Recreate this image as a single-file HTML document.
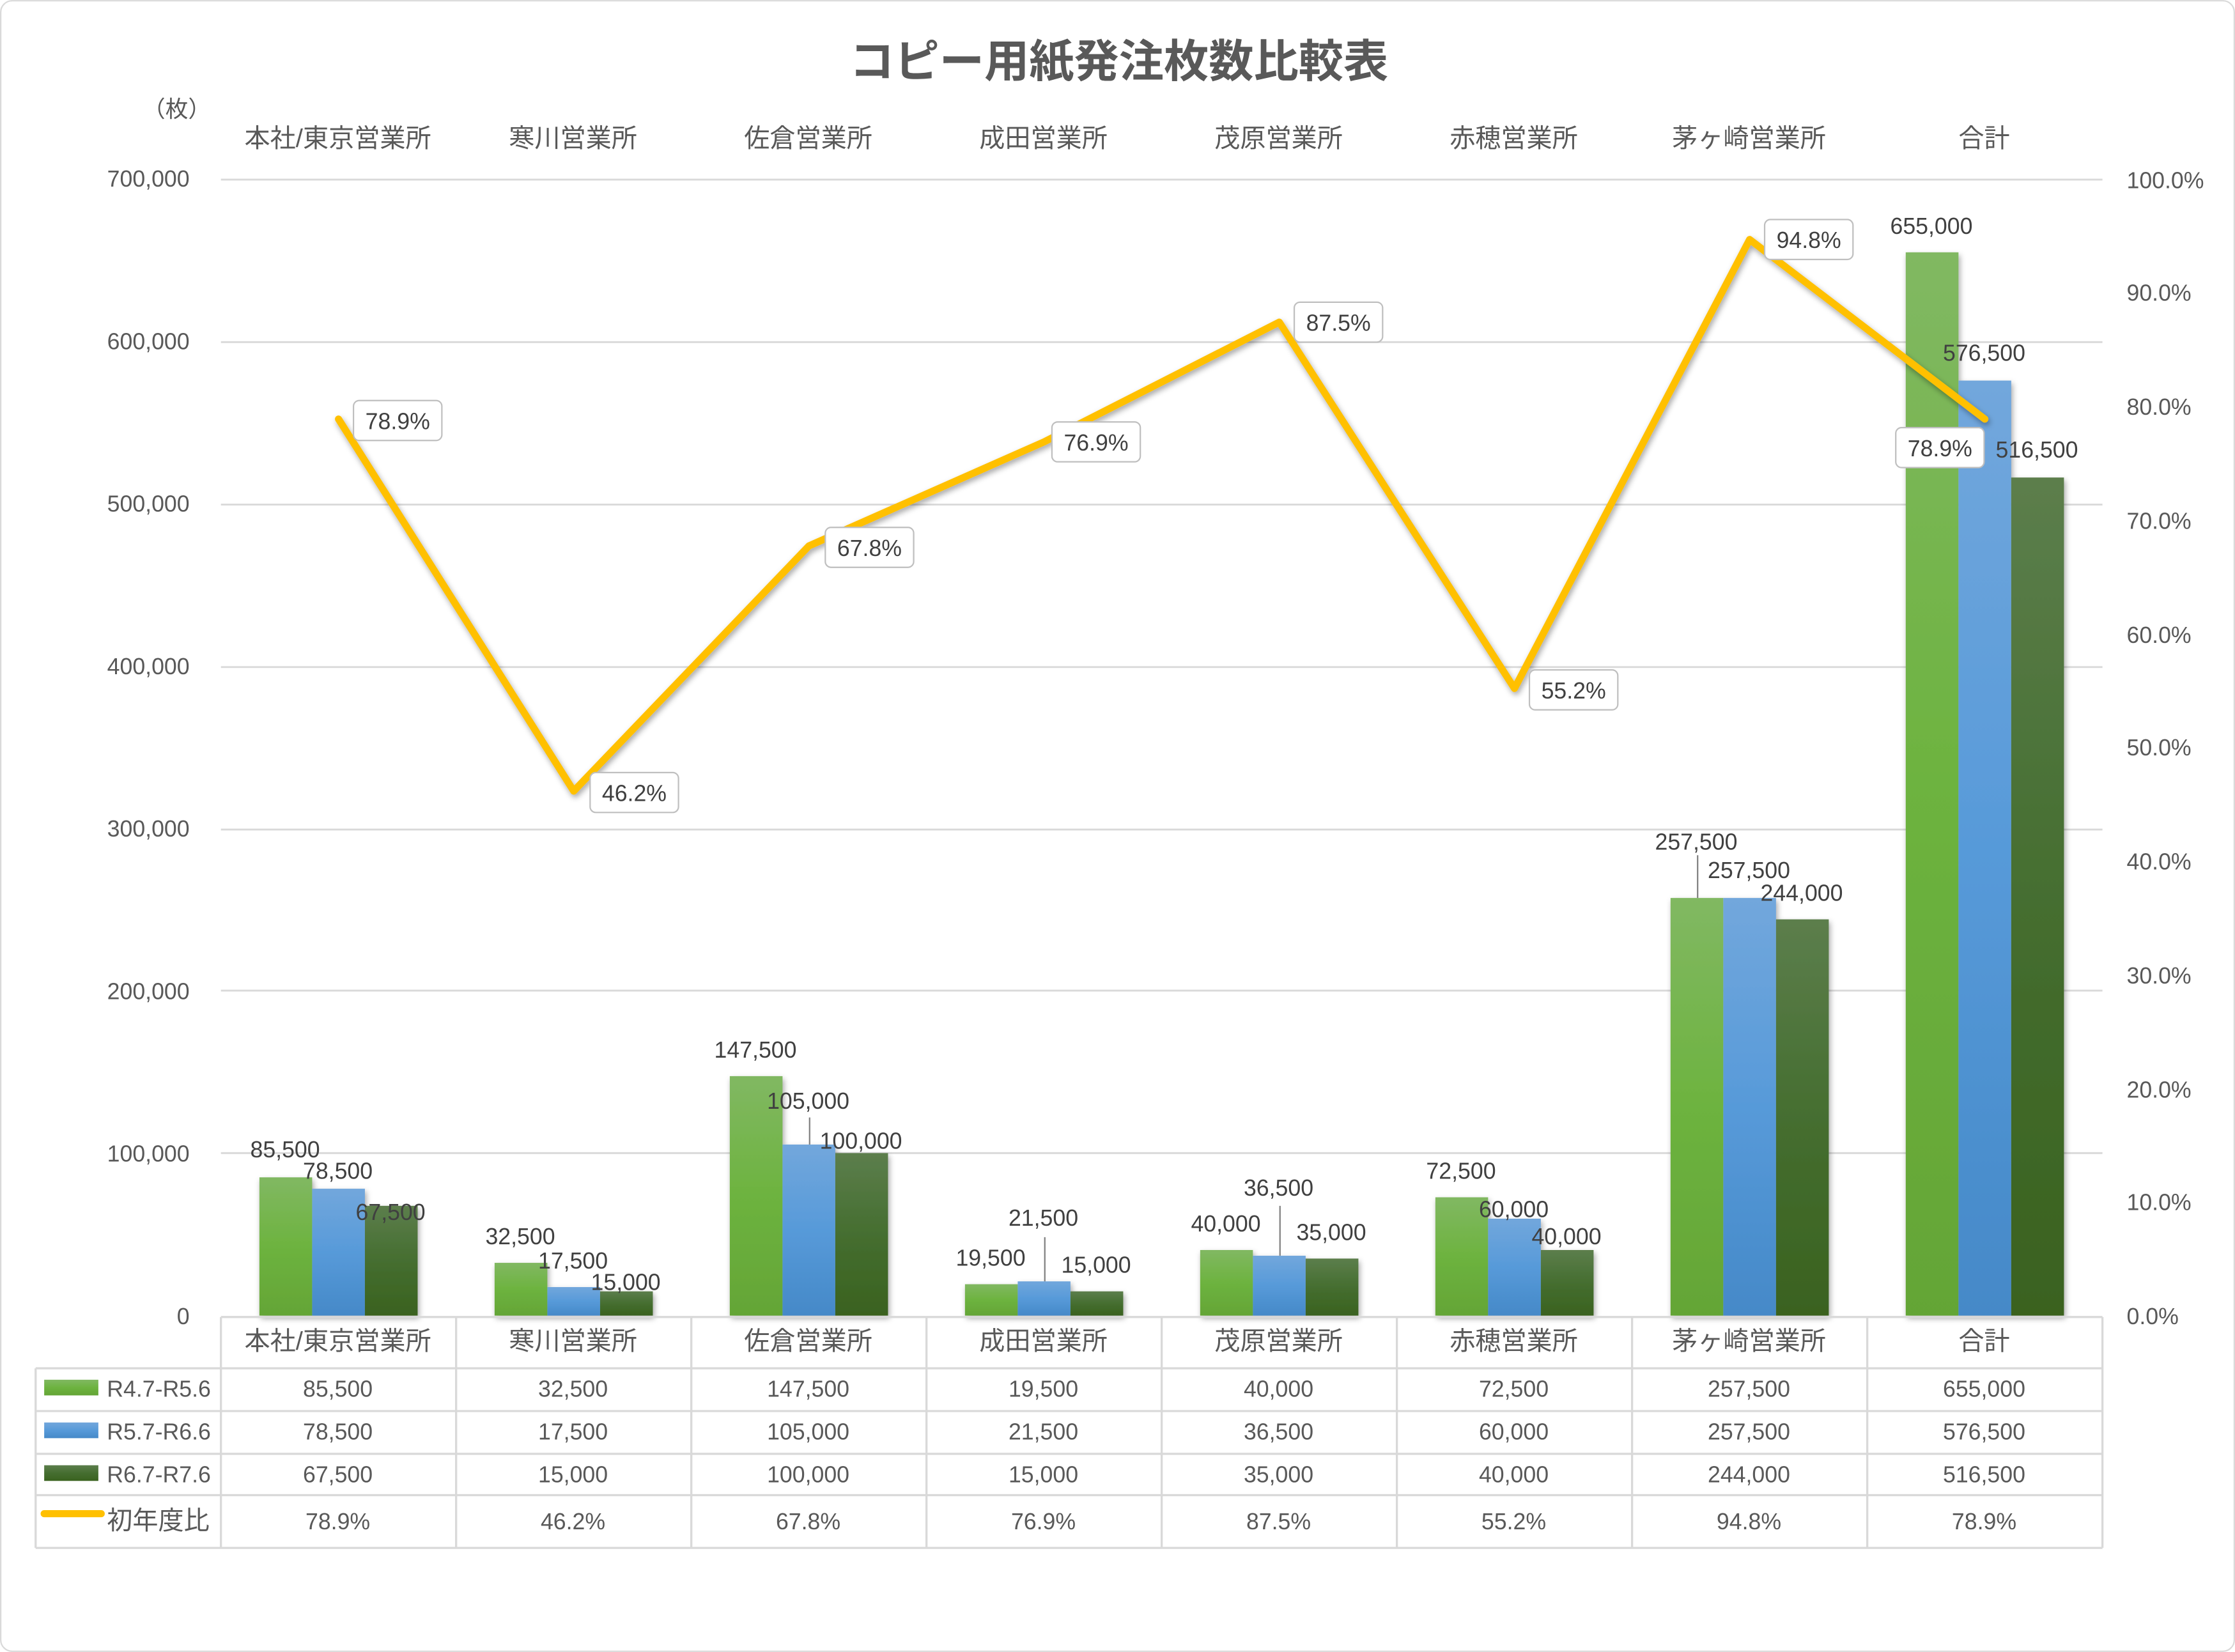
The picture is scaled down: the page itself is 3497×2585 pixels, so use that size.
<!DOCTYPE html>
<html><head><meta charset="utf-8">
<style>
html,body{margin:0;padding:0;background:#fff;}
svg{display:block;}
text{font-family:"Liberation Sans","Noto Sans CJK JP",sans-serif;}
</style></head>
<body>
<svg width="3497" height="2585" viewBox="0 0 1568 1159" xmlns="http://www.w3.org/2000/svg">
<defs>
<linearGradient id="g1" x1="0" y1="0" x2="0" y2="1"><stop offset="0" stop-color="#81b862"/><stop offset="0.5" stop-color="#6db33f"/><stop offset="1" stop-color="#64a536"/></linearGradient>
<linearGradient id="g2" x1="0" y1="0" x2="0" y2="1"><stop offset="0" stop-color="#72a7dc"/><stop offset="0.5" stop-color="#579ad9"/><stop offset="1" stop-color="#4589c8"/></linearGradient>
<linearGradient id="g3" x1="0" y1="0" x2="0" y2="1"><stop offset="0" stop-color="#5c7e4c"/><stop offset="0.5" stop-color="#456e30"/><stop offset="1" stop-color="#3a621f"/></linearGradient>
<filter id="sh" x="-20%" y="-20%" width="140%" height="140%"><feDropShadow dx="1" dy="2" stdDeviation="2" flood-color="#000" flood-opacity="0.35"/></filter>
</defs>
<rect x="0.5" y="0.5" width="1567" height="1158" rx="8" fill="#fff" stroke="#d9d9d9"/>
<text x="785" y="54" text-anchor="middle" font-size="31.5" font-weight="bold" fill="#595959">コピー用紙発注枚数比較表</text>
<text x="124" y="82" text-anchor="middle" font-size="16" fill="#595959">（枚）</text>
<g stroke="#d9d9d9" stroke-width="1.3">
<line x1="155" y1="126" x2="1475" y2="126"/><line x1="155" y1="240" x2="1475" y2="240"/>
<line x1="155" y1="354" x2="1475" y2="354"/><line x1="155" y1="468" x2="1475" y2="468"/>
<line x1="155" y1="582" x2="1475" y2="582"/><line x1="155" y1="695" x2="1475" y2="695"/>
<line x1="155" y1="809" x2="1475" y2="809"/>
</g>
<g font-size="16" fill="#595959" text-anchor="end">
<text x="133" y="131">700,000</text><text x="133" y="245">600,000</text><text x="133" y="359">500,000</text>
<text x="133" y="473">400,000</text><text x="133" y="587">300,000</text><text x="133" y="701">200,000</text>
<text x="133" y="815">100,000</text><text x="133" y="929">0</text>
</g>
<g font-size="16" fill="#595959">
<text x="1492" y="132">100.0%</text><text x="1492" y="211">90.0%</text><text x="1492" y="291">80.0%</text>
<text x="1492" y="371">70.0%</text><text x="1492" y="451">60.0%</text><text x="1492" y="530">50.0%</text>
<text x="1492" y="610">40.0%</text><text x="1492" y="690">30.0%</text><text x="1492" y="770">20.0%</text>
<text x="1492" y="849">10.0%</text><text x="1492" y="929">0.0%</text>
</g>
<g font-size="18" fill="#595959" text-anchor="middle">
<text x="237" y="103">本社/東京営業所</text><text x="402" y="103">寒川営業所</text><text x="567" y="103">佐倉営業所</text>
<text x="732" y="103">成田営業所</text><text x="897" y="103">茂原営業所</text><text x="1062" y="103">赤穂営業所</text>
<text x="1227" y="103">茅ヶ崎営業所</text><text x="1392" y="103">合計</text>
</g>
<g filter="url(#sh)">
<rect x="182" y="826" width="37" height="97" fill="url(#g1)"/><rect x="219" y="834" width="37" height="89" fill="url(#g2)"/><rect x="256" y="846" width="37" height="77" fill="url(#g3)"/>
<rect x="347" y="886" width="37" height="37" fill="url(#g1)"/><rect x="384" y="903" width="37" height="20" fill="url(#g2)"/><rect x="421" y="906" width="37" height="17" fill="url(#g3)"/>
<rect x="512" y="755" width="37" height="168" fill="url(#g1)"/><rect x="549" y="803" width="37" height="120" fill="url(#g2)"/><rect x="586" y="809" width="37" height="114" fill="url(#g3)"/>
<rect x="677" y="901" width="37" height="22" fill="url(#g1)"/><rect x="714" y="899" width="37" height="24" fill="url(#g2)"/><rect x="751" y="906" width="37" height="17" fill="url(#g3)"/>
<rect x="842" y="877" width="37" height="46" fill="url(#g1)"/><rect x="879" y="881" width="37" height="42" fill="url(#g2)"/><rect x="916" y="883" width="37" height="40" fill="url(#g3)"/>
<rect x="1007" y="840" width="37" height="83" fill="url(#g1)"/><rect x="1044" y="855" width="37" height="68" fill="url(#g2)"/><rect x="1081" y="877" width="37" height="46" fill="url(#g3)"/>
<rect x="1172" y="630" width="37" height="293" fill="url(#g1)"/><rect x="1209" y="630" width="37" height="293" fill="url(#g2)"/><rect x="1246" y="645" width="37" height="278" fill="url(#g3)"/>
<rect x="1337" y="177" width="37" height="746" fill="url(#g1)"/><rect x="1374" y="267" width="37" height="656" fill="url(#g2)"/><rect x="1411" y="335" width="37" height="588" fill="url(#g3)"/>
</g>
<g stroke="#808080" stroke-width="1">
<line x1="568" y1="784" x2="568" y2="803"/><line x1="733" y1="868" x2="733" y2="899"/><line x1="898" y1="846" x2="898" y2="881"/><line x1="1191" y1="600" x2="1191" y2="630"/>
</g>
<g font-size="16" fill="#404040" text-anchor="middle">
<text x="200" y="812">85,500</text><text x="237" y="827">78,500</text><text x="274" y="856">67,500</text>
<text x="365" y="873">32,500</text><text x="402" y="890">17,500</text><text x="439" y="905">15,000</text>
<text x="530" y="742">147,500</text><text x="567" y="778">105,000</text><text x="604" y="806">100,000</text>
<text x="695" y="888">19,500</text><text x="732" y="860">21,500</text><text x="769" y="893">15,000</text>
<text x="860" y="864">40,000</text><text x="897" y="839">36,500</text><text x="934" y="870">35,000</text>
<text x="1025" y="827">72,500</text><text x="1062" y="854">60,000</text><text x="1099" y="873">40,000</text>
<text x="1190" y="596">257,500</text><text x="1227" y="616">257,500</text><text x="1264" y="632">244,000</text>
<text x="1355" y="164">655,000</text><text x="1392" y="253">576,500</text><text x="1429" y="321">516,500</text>
</g>
<polyline filter="url(#sh)" points="237.5,294 402.5,555 567.5,383 732.5,310 897.5,226 1062.5,483 1227.5,168 1392.5,294" fill="none" stroke="#ffc000" stroke-width="5" stroke-linejoin="round" stroke-linecap="round"/>
<g font-size="16" fill="#404040" text-anchor="middle">
<rect x="248" y="281" width="62" height="28" rx="4" fill="#fff" stroke="#bfbfbf"/><text x="279" y="301">78.9%</text>
<rect x="414" y="542" width="62" height="28" rx="4" fill="#fff" stroke="#bfbfbf"/><text x="445" y="562">46.2%</text>
<rect x="579" y="370" width="62" height="28" rx="4" fill="#fff" stroke="#bfbfbf"/><text x="610" y="390">67.8%</text>
<rect x="738" y="296" width="62" height="28" rx="4" fill="#fff" stroke="#bfbfbf"/><text x="769" y="316">76.9%</text>
<rect x="908" y="212" width="62" height="28" rx="4" fill="#fff" stroke="#bfbfbf"/><text x="939" y="232">87.5%</text>
<rect x="1073" y="470" width="62" height="28" rx="4" fill="#fff" stroke="#bfbfbf"/><text x="1104" y="490">55.2%</text>
<rect x="1238" y="154" width="62" height="28" rx="4" fill="#fff" stroke="#bfbfbf"/><text x="1269" y="174">94.8%</text>
<rect x="1330" y="300" width="62" height="28" rx="4" fill="#fff" stroke="#bfbfbf"/><text x="1361" y="320">78.9%</text>
</g>
<g stroke="#d9d9d9" stroke-width="1.5" fill="none">
<line x1="155" y1="924" x2="1475" y2="924"/>
<line x1="25" y1="960" x2="1475" y2="960"/><line x1="25" y1="990" x2="1475" y2="990"/>
<line x1="25" y1="1020" x2="1475" y2="1020"/><line x1="25" y1="1049" x2="1475" y2="1049"/>
<line x1="25" y1="1086" x2="1475" y2="1086"/>
<line x1="25" y1="960" x2="25" y2="1086"/>
<line x1="155" y1="924" x2="155" y2="1086"/><line x1="320" y1="924" x2="320" y2="1086"/><line x1="485" y1="924" x2="485" y2="1086"/>
<line x1="650" y1="924" x2="650" y2="1086"/><line x1="815" y1="924" x2="815" y2="1086"/><line x1="980" y1="924" x2="980" y2="1086"/>
<line x1="1145" y1="924" x2="1145" y2="1086"/><line x1="1310" y1="924" x2="1310" y2="1086"/><line x1="1475" y1="924" x2="1475" y2="1086"/>
</g>
<g font-size="18" fill="#595959" text-anchor="middle">
<text x="237" y="947">本社/東京営業所</text><text x="402" y="947">寒川営業所</text><text x="567" y="947">佐倉営業所</text>
<text x="732" y="947">成田営業所</text><text x="897" y="947">茂原営業所</text><text x="1062" y="947">赤穂営業所</text>
<text x="1227" y="947">茅ヶ崎営業所</text><text x="1392" y="947">合計</text>
</g>
<rect x="31" y="968" width="38" height="11" fill="url(#g1)"/>
<rect x="31" y="998" width="38" height="11" fill="url(#g2)"/>
<rect x="31" y="1028" width="38" height="11" fill="url(#g3)"/>
<line x1="31" y1="1062" x2="71" y2="1062" stroke="#ffc000" stroke-width="5" stroke-linecap="round"/>
<g font-size="16" fill="#595959">
<text x="75" y="980">R4.7-R5.6</text><text x="75" y="1010">R5.7-R6.6</text><text x="75" y="1040">R6.7-R7.6</text>
<text x="75" y="1073" font-size="18">初年度比</text>
</g>
<g font-size="16" fill="#595959" text-anchor="middle">
<text x="237" y="980">85,500</text><text x="402" y="980">32,500</text><text x="567" y="980">147,500</text><text x="732" y="980">19,500</text><text x="897" y="980">40,000</text><text x="1062" y="980">72,500</text><text x="1227" y="980">257,500</text><text x="1392" y="980">655,000</text>
<text x="237" y="1010">78,500</text><text x="402" y="1010">17,500</text><text x="567" y="1010">105,000</text><text x="732" y="1010">21,500</text><text x="897" y="1010">36,500</text><text x="1062" y="1010">60,000</text><text x="1227" y="1010">257,500</text><text x="1392" y="1010">576,500</text>
<text x="237" y="1040">67,500</text><text x="402" y="1040">15,000</text><text x="567" y="1040">100,000</text><text x="732" y="1040">15,000</text><text x="897" y="1040">35,000</text><text x="1062" y="1040">40,000</text><text x="1227" y="1040">244,000</text><text x="1392" y="1040">516,500</text>
<text x="237" y="1073">78.9%</text><text x="402" y="1073">46.2%</text><text x="567" y="1073">67.8%</text><text x="732" y="1073">76.9%</text><text x="897" y="1073">87.5%</text><text x="1062" y="1073">55.2%</text><text x="1227" y="1073">94.8%</text><text x="1392" y="1073">78.9%</text>
</g>
</svg>
</body></html>
